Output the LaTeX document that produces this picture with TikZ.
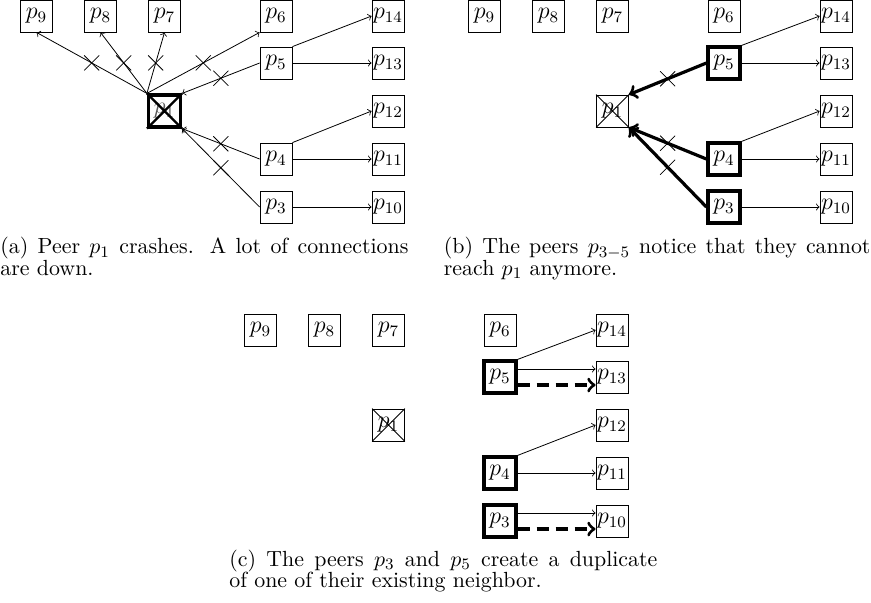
\documentclass[tikz,border=0pt]{standalone}
\usetikzlibrary{shapes.misc}
\tikzset{
  peer/.style={draw, rectangle, minimum size=16pt, inner sep=0pt, font=\large},
  hot/.style={ultra thick},
  link/.style={->, line width=0.4pt},
  cut/.style={->, ultra thick},
  dup/.style={->, ultra thick, dash pattern=on 6pt off 3.5pt},
  xmark/.style={cross out, draw, solid, line width=0.4pt, minimum size=7.5pt, inner sep=0pt, outer sep=0pt},
  captext/.style={anchor=north west, inner sep=0pt, align=justify, font=\fontsize{10.95pt}{10.75pt}\selectfont},
}
\newcommand\peerset[3]{%
  \node[peer] (#1p9) at (36.5,16) {$p_9$};
  \node[peer] (#1p8) at (100.5,16) {$p_8$};
  \node[peer] (#1p7) at (164.5,16) {$p_7$};
  \node[peer] (#1p6) at (276,16) {$p_6$};
  \node[peer] (#1p14) at (388,16) {$p_{14}$};
  \node[peer,#3] (#1p5) at (276,63) {$p_5$};
  \node[peer] (#1p13) at (388,63) {$p_{13}$};
  \node[peer,#2] (#1p1) at (164.5,111) {$p_1$};
  \node[peer] (#1p12) at (388,111) {$p_{12}$};
  \node[peer,#3] (#1p4) at (276,159) {$p_4$};
  \node[peer] (#1p11) at (388,159) {$p_{11}$};
  \node[peer,#3] (#1p3) at (276,207) {$p_3$};
  \node[peer] (#1p10) at (388,207) {$p_{10}$};
  \draw[link] (#1p5.north east) -- (#1p14.west);
  \draw[link] (#1p4.north east) -- (#1p12.west);
  \draw[link] (#1p4.east) -- (#1p11.west);
}
\begin{document}
\begin{tikzpicture}[x=0.5pt, y=-0.5pt]
\useasboundingbox (0,0) rectangle (871,602);

% ---------- panel (a)
\begin{scope}
  \peerset{a}{ultra thick, text=black!65}{}
  \draw[very thick] (ap1.north west) -- (ap1.south east)
                    (ap1.south west) -- (ap1.north east);
  \draw[link] (ap1.north west) -- node[xmark]{} (ap9.south);
  \draw[link] (ap1.north west) -- node[xmark]{} (ap8.south);
  \draw[link] (ap1.north west) -- node[xmark]{} (ap7.south);
  \draw[link] (ap1.north west) -- node[xmark]{} (ap6.south west);
  \draw[link] (ap5.west) -- node[xmark]{} (ap1.north east);
  \draw[link] (ap4.west) -- node[xmark]{} (ap1.south east);
  \draw[link] (ap3.west) -- node[xmark]{} (ap1.south east);
  \draw[link] (ap5.east) -- (ap13.west);
  \draw[link] (ap3.east) -- (ap10.west);
\end{scope}
\node[captext, text width=204pt] (capa) at (0,237)
  {(a) Peer $p_1$ crashes. A lot of connections\linebreak are down.};

% ---------- panel (b)
\begin{scope}[shift={(448,0)}]
  \peerset{b}{}{hot}
  \draw[line width=0.4pt] (bp1.north west) -- (bp1.south east)
                          (bp1.south west) -- (bp1.north east);
  \draw[cut] (bp5.west) -- node[xmark]{} (bp1.north east);
  \draw[cut] (bp4.west) -- node[xmark]{} (bp1.south east);
  \draw[cut] (bp3.west) -- node[xmark]{} (bp1.south east);
  \draw[link] (bp5.east) -- (bp13.west);
  \draw[link] (bp3.east) -- (bp10.west);
\end{scope}
\node[captext, text width=213.3pt] (capb) at (443.5,237)
  {(b) The peers $p_{3-5}$ notice that they cannot\linebreak reach $p_1$ anymore.};

% ---------- panel (c)
\begin{scope}[shift={(224,314)}]
  \peerset{c}{}{hot}
  \draw[line width=0.4pt] (cp1.north west) -- (cp1.south east)
                          (cp1.south west) -- (cp1.north east);
  \draw[link] ([yshift=4pt]cp5.east) -- ([yshift=4pt]cp13.west);
  \draw[dup] ([yshift=-4pt]cp5.east) -- ([yshift=-4pt]cp13.west);
  \draw[link] ([yshift=4pt]cp3.east) -- ([yshift=4pt]cp10.west);
  \draw[dup] ([yshift=-4pt]cp3.east) -- ([yshift=-4pt]cp10.west);
\end{scope}
\node[captext, text width=214pt] (capc) at (229,549.5)
  {(c) The peers $p_3$ and $p_5$ create a duplicate\linebreak of one of their existing neighbor.};
\end{tikzpicture}
\end{document}
